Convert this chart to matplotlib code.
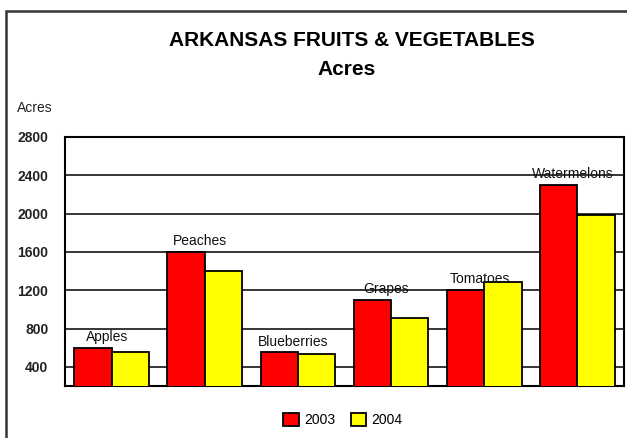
import matplotlib
matplotlib.use("Agg")
import matplotlib.pyplot as plt
import matplotlib.patches as mpatches
import numpy as np

plt.rcParams['font.family'] = ['Liberation Sans', 'DejaVu Sans']

categories = ["Apples", "Peaches", "Blueberries", "Grapes", "Tomatoes", "Watermelons"]
acres_2003 = [600, 1600, 550, 1100, 1200, 2300]
acres_2004 = [550, 1400, 530, 910, 1290, 1990]
series_labels = ["2003", "2004"]
yticks = [400, 800, 1200, 1600, 2000, 2400, 2800]

W, H = 627, 438
fig = plt.figure(figsize=(W / 100, H / 100), dpi=100)
fig.patch.set_facecolor("white")

ax = fig.add_axes([65 / W, 1 - 386 / H, (624 - 65) / W, (386 - 137) / H])

x = np.arange(len(categories))
bw = 0.4
b1 = ax.bar(x - bw / 2, acres_2003, width=bw, color="#FF0000", edgecolor="black", linewidth=1.3, zorder=3)
b2 = ax.bar(x + bw / 2, acres_2004, width=bw, color="#FFFF00", edgecolor="black", linewidth=1.3, zorder=3)

ax.set_xlim(-0.5, len(categories) - 0.5)
ax.set_ylim(200, 2800)
ax.set_yticks(yticks)
ax.set_yticklabels([str(v) for v in yticks], fontsize=10, fontweight="bold", color="#222222")
ax.set_xticks([])
ax.tick_params(axis="y", length=0, pad=12)
ax.grid(axis="y", color="black", linewidth=1.1, zorder=0)
for s in ax.spines.values():
    s.set_color("black")
    s.set_linewidth(1.5)

for i, name in enumerate(categories):
    ax.annotate(name, xy=(x[i] - 0.05, acres_2003[i]), xytext=(0, 5), textcoords="offset points",
                ha="center", va="baseline", fontsize=10, color="#111111", zorder=5,
                annotation_clip=False)

ax.text(17 / W, 1 - 112 / H, "Acres", transform=fig.transFigure, fontsize=10, color="#222222",
        ha="left", va="baseline")

fig.text(352 / W, 1 - 46 / H, "ARKANSAS FRUITS & VEGETABLES", fontsize=15, fontweight="bold",
         ha="center", va="baseline")
fig.text(347 / W, 1 - 75 / H, "Acres", fontsize=15, fontweight="bold", ha="center", va="baseline")

leg = fig.legend([b1, b2], series_labels, loc="center", bbox_to_anchor=(343 / W, 1 - 420 / H),
                 ncol=2, frameon=False, fontsize=10, handlelength=1.1, handleheight=1.1,
                 handletextpad=0.4, columnspacing=1.1)

border = mpatches.Rectangle((6 / W, -0.1), 1.2, (1 - 11 / H) + 0.1, transform=fig.transFigure,
                            fill=False, edgecolor="#333333", linewidth=1.8, clip_on=False)
fig.add_artist(border)

fig.savefig("out.png", dpi=100, facecolor="white")
